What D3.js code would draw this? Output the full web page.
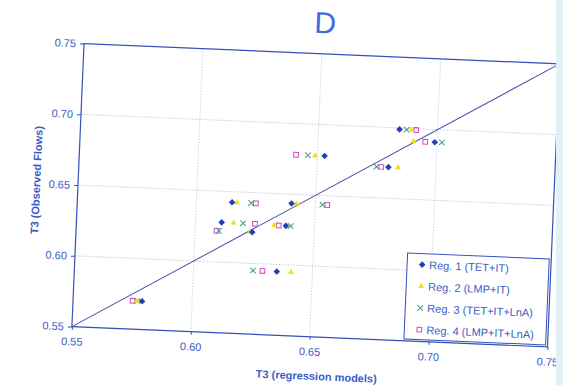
<!DOCTYPE html>
<html>
<head>
<meta charset="utf-8">
<script src="https://cdn.jsdelivr.net/npm/d3@7"></script>
<style>
  html, body { margin: 0; padding: 0; background: #ffffff; }
  svg { display: block; font-family: "Liberation Sans", Arial, sans-serif; }
</style>
</head>
<body>
<svg id="chart" width="563" height="385"></svg>
<script>
// Observed T3 flows, one value per case
const observed = [0.570, 0.595, 0.628, 0.622, 0.6275, 0.6425, 0.6435, 0.678, 0.672, 0.699, 0.691];
// T3 predicted by each regression model, same case order
const reg1 = [0.579, 0.635, 0.611, 0.624, 0.638, 0.615, 0.640, 0.653, 0.680, 0.684, 0.699];
const reg2 = [0.577, 0.641, 0.616, 0.623, 0.633, 0.617, 0.642, 0.649, 0.684, 0.689, 0.690];
const reg3 = [0.577, 0.625, 0.620, 0.610, 0.640, 0.623, 0.653, 0.646, 0.675, 0.687, 0.702];
const reg4 = [0.575, 0.629, 0.625, 0.609, 0.635, 0.625, 0.655, 0.641, 0.677, 0.691, 0.695];
const seriesNames = ["Reg. 1 (TET+IT)", "Reg. 2 (LMP+IT)", "Reg. 3 (TET+IT+LnA)", "Reg. 4 (LMP+IT+LnA)"];
const tickValues = [0.55, 0.60, 0.65, 0.70, 0.75];
const axisDomain = [0.55, 0.75];

const textBlue = "#3a5cc8";
const frameBlue = "#3550b8";

const series = [
  { name: seriesNames[0], values: reg1, shape: "diamond", color: "#2140b8" },
  { name: seriesNames[1], values: reg2, shape: "triangle", color: "#f0e020" },
  { name: seriesNames[2], values: reg3, shape: "cross", color: "#4aa48a" },
  { name: seriesNames[3], values: reg4, shape: "square", color: "#d048c4" }
];

const svg = d3.select("#chart");
const plotL = 77.75, plotR = 553.75, plotT = 53.6, plotB = 336.9;
const cx = (plotL + plotR) / 2, cy = (plotT + plotB) / 2;

// the whole page sits slightly tilted
const g = svg.append("g").attr("transform", `rotate(2.45, ${cx}, ${cy})`);

const x = d3.scaleLinear().domain(axisDomain).range([plotL, plotR]);
const y = d3.scaleLinear().domain(axisDomain).range([plotB, plotT]);

// gridlines
const grid = g.append("g");
grid.selectAll("line.v").data(tickValues.slice(1, -1)).join("line")
  .attr("class", "v")
  .attr("x1", d => x(d)).attr("x2", d => x(d))
  .attr("y1", plotT).attr("y2", plotB)
  .attr("stroke", "#b6cce0").attr("stroke-width", 0.8).attr("stroke-dasharray", "1.5,1.5");
grid.selectAll("line.h").data(tickValues.slice(1, -1)).join("line")
  .attr("class", "h")
  .attr("x1", plotL).attr("x2", plotR)
  .attr("y1", d => y(d)).attr("y2", d => y(d))
  .attr("stroke", "#b8c0cc").attr("stroke-width", 0.8).attr("stroke-dasharray", "1.5,1.5");

// axes
const fmt = d3.format(".2f");
const xAxis = g.append("g").attr("transform", `translate(0,${plotB})`)
  .call(d3.axisBottom(x).tickValues(tickValues).tickFormat(fmt).tickSizeInner(3).tickSizeOuter(0).tickPadding(8));
const yAxis = g.append("g").attr("transform", `translate(${plotL},0)`)
  .call(d3.axisLeft(y).tickValues(tickValues).tickFormat(fmt).tickSizeInner(4).tickSizeOuter(0).tickPadding(4));
[xAxis, yAxis].forEach(a => {
  a.select(".domain").remove();
  a.selectAll(".tick line").attr("stroke", frameBlue);
  a.selectAll(".tick text").attr("fill", textBlue).attr("font-size", 11)
    .attr("font-family", "'Liberation Sans', Arial, sans-serif");
});

// plot frame
g.append("rect")
  .attr("x", plotL).attr("y", plotT).attr("width", plotR - plotL).attr("height", plotB - plotT)
  .attr("fill", "none").attr("stroke", frameBlue).attr("stroke-width", 1.2);

// 1:1 reference line
g.append("line")
  .attr("x1", x(axisDomain[0])).attr("y1", y(axisDomain[0]))
  .attr("x2", x(axisDomain[1])).attr("y2", y(axisDomain[1]))
  .attr("stroke", "#4a4fa8").attr("stroke-width", 1);

// marker drawing
function drawMarker(sel, shape, color) {
  if (shape === "diamond") {
    sel.append("path").attr("d", "M0,-3.3L3.3,0L0,3.3L-3.3,0Z")
      .attr("fill", color);
  } else if (shape === "triangle") {
    sel.append("path").attr("d", d3.symbol(d3.symbolTriangle, 16)())
      .attr("fill", color);
  } else if (shape === "cross") {
    sel.append("path").attr("d", d3.symbol(d3.symbolTimes, 22)())
      .attr("fill", "none").attr("stroke", color).attr("stroke-width", 1.1);
  } else {
    sel.append("path").attr("d", d3.symbol(d3.symbolSquare, 22)())
      .attr("fill", "none").attr("stroke", color).attr("stroke-width", 1);
  }
}

// points: drawn from last series to first so diamonds sit on top
const pts = g.append("g");
series.slice().reverse().forEach(s => {
  s.values.forEach((v, i) => {
    const m = pts.append("g").attr("transform", `translate(${x(v)},${y(observed[i])})`);
    drawMarker(m, s.shape, s.color);
  });
});

// legend
const lg = g.append("g");
const lgX = 410, lgY = 249, lgW = plotR - 2 - lgX, lgH = 86;
lg.append("rect").attr("x", lgX).attr("y", lgY).attr("width", lgW).attr("height", lgH)
  .attr("fill", "#ffffff").attr("stroke", frameBlue).attr("stroke-width", 1);
series.forEach((s, i) => {
  const yy = lgY + 11 + i * 21.7;
  const m = lg.append("g").attr("transform", `translate(${lgX + 15},${yy})`);
  drawMarker(m, s.shape, s.color);
  lg.append("text").attr("x", lgX + 22).attr("y", yy + 4)
    .attr("fill", textBlue).attr("font-size", 11).text(s.name);
});

// titles
g.append("text").attr("x", 318).attr("y", 33).attr("text-anchor", "middle")
  .attr("fill", "#3f6ad8").attr("font-size", 30).text("D");
g.append("text").attr("x", 324).attr("y", 380).attr("text-anchor", "middle")
  .attr("fill", textBlue).attr("font-size", 11).attr("font-weight", "bold")
  .text("T3 (regression models)");
g.append("text").attr("transform", "translate(40,192) rotate(-90)").attr("text-anchor", "middle")
  .attr("fill", textBlue).attr("font-size", 11).attr("font-weight", "bold")
  .text("T3 (Observed Flows)");

// faint tinted strip along the right edge of the sheet
svg.append("rect").attr("x", 556).attr("y", 0).attr("width", 7).attr("height", 385)
  .attr("fill", "#e2f1f5");
</script>
</body>
</html>
